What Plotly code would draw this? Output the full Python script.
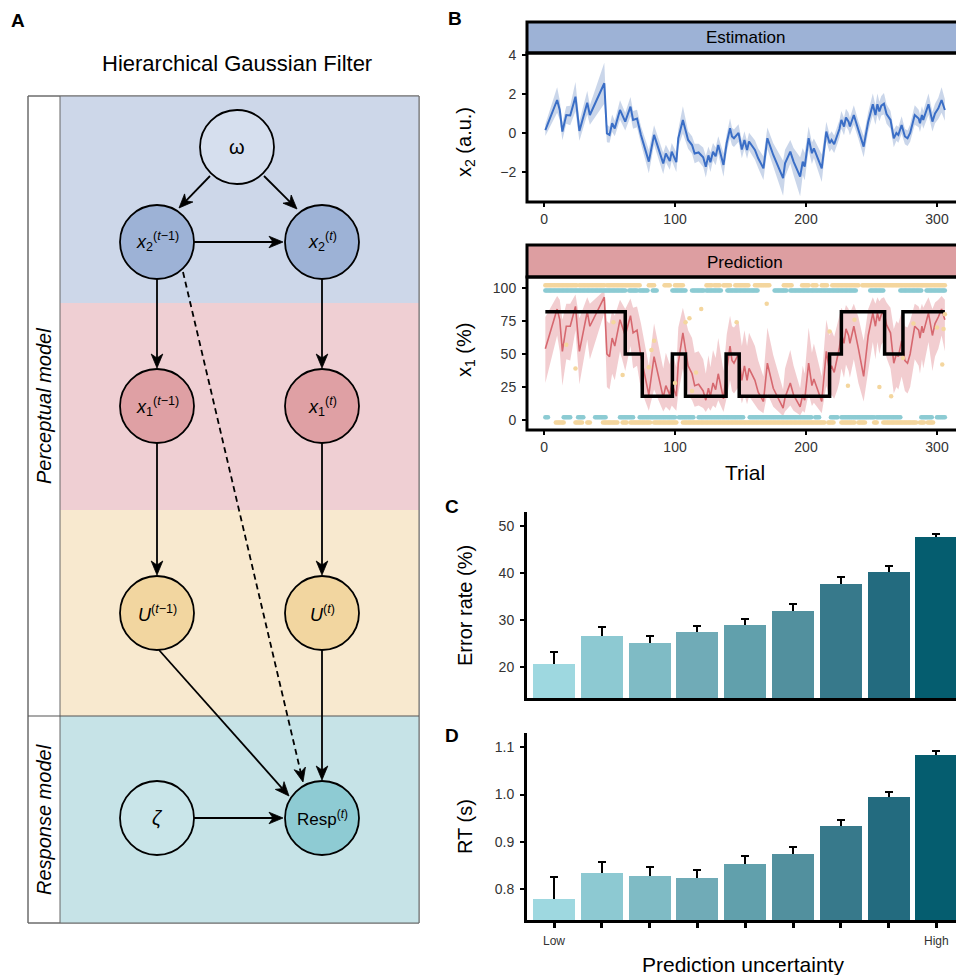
import math
import plotly.graph_objects as go

W, H = 956, 975
def X(px): return px / W
def Y(py): return 1 - py / H

FONT = "Liberation Sans, Arial, sans-serif"

# ---------------- Panel B data ----------------
trial = [1, 10, 12, 14, 17, 20, 24, 27, 33, 35, 46, 48,
         50, 52, 54, 58, 62, 66, 68, 71, 74, 80, 84, 91,
         93, 96, 97.5, 101, 102.5, 106, 110, 113, 115, 118, 121.5, 123.5,
         125.5, 127, 129, 131, 133, 137, 139.5, 142, 143.5, 145, 148.5, 151,
         153, 155, 156.5, 161, 163.5, 167.5, 170.5, 175, 182.5, 184, 188, 190.5,
         195.5, 197.5, 199, 202, 204.5, 206, 212, 215.5, 218, 219.5, 221.5, 224,
         225.5, 227, 229, 230.5, 232.5, 233.5, 236.5, 240, 244, 247.5, 251, 253,
         254.5, 256, 257.5, 259.5, 261.5, 264.5, 267, 269, 270.5, 273, 275.5, 277.5,
         279.5, 283, 286, 287, 288.5, 289.5, 293.5, 296.5, 298.5, 301, 303.5, 306]

x2_mean = [0.15, 1.69, 1.18, 0.07, 0.92, 0.90, 1.86, 0.10, 1.55, 0.92, 2.55, -0.02,
           -0.10, 0.50, 0.23, 1.18, 0.58, 1.35, 0.67, 0.74, -0.10, -1.47, -0.10, -1.56,
           -1.05, -1.44, -0.96, -1.50, -0.27, 0.67, -0.36, -0.62, -1.05, -1.00, -1.25, -1.73,
           -1.15, -1.50, -0.96, -1.20, -0.62, -1.64, -0.50, 0.24, -0.18, -0.27, 0.00, -0.85,
           -0.36, -0.87, -0.44, -0.87, -1.30, -1.81, -0.27, -1.13, -2.32, -1.56, -0.96, -1.47,
           -2.24, -1.47, -1.73, -0.27, -1.04, -0.79, -1.81, 0.07, -0.53, -0.36, -0.58, -0.10,
           0.20, 0.67, 0.33, 0.79, 0.58, 0.33, 0.92, 0.15, -0.70, 0.58, 1.47, 0.92,
           1.47, 1.10, 1.40, 1.50, 0.97, 0.67, -0.28, 0.00, -0.10, 0.41, -0.18, -0.27,
           0.00, 0.92, 0.74, 0.50, 0.92, 0.67, 1.47, 0.58, 1.00, 1.26, 1.69, 1.18]

x2_sd = [0.30, 0.65, 0.50, 0.45, 0.45, 0.50, 0.75, 0.50, 0.60, 0.50, 1.05, 0.45,
         0.40, 0.45, 0.40, 0.50, 0.45, 0.50, 0.45, 0.45, 0.45, 0.60, 0.50, 0.55,
         0.45, 0.45, 0.45, 0.50, 0.45, 0.70, 0.45, 0.45, 0.50, 0.45, 0.50, 0.55,
         0.45, 0.50, 0.45, 0.45, 0.45, 0.60, 0.45, 0.50, 0.45, 0.45, 0.45, 0.45,
         0.45, 0.45, 0.45, 0.50, 0.50, 0.60, 0.55, 0.60, 0.90, 0.70, 0.60, 0.70,
         1.00, 0.70, 0.70, 0.60, 0.55, 0.50, 0.70, 0.50, 0.45, 0.45, 0.45, 0.45,
         0.45, 0.45, 0.45, 0.45, 0.45, 0.45, 0.50, 0.45, 0.55, 0.50, 0.55, 0.50,
         0.55, 0.50, 0.50, 0.55, 0.50, 0.45, 0.45, 0.40, 0.40, 0.45, 0.40, 0.40,
         0.45, 0.50, 0.45, 0.45, 0.45, 0.45, 0.55, 0.50, 0.50, 0.55, 0.65, 0.55]

x1_mean = [54, 84, 76, 52, 71, 71, 86, 52, 82, 71, 93, 50,
           48, 62, 56, 76, 64, 79, 66, 68, 48, 19, 48, 17,
           26, 19, 28, 18, 43, 66, 41, 35, 26, 27, 22, 15,
           24, 18, 28, 23, 35, 16, 38, 56, 45, 43, 50, 30,
           41, 30, 39, 30, 21, 14, 43, 24, 9, 17, 28, 19,
           10, 19, 15, 43, 26, 31, 14, 52, 37, 41, 36, 48,
           55, 66, 58, 69, 64, 58, 71, 54, 33, 64, 81, 71,
           81, 75, 80, 82, 72, 66, 43, 50, 48, 60, 45, 43,
           50, 71, 68, 62, 71, 66, 81, 64, 73, 78, 84, 76]

x1_lo = [28, 64, 52, 26, 46, 45, 68, 27, 61, 46, 81, 25,
         23, 35, 30, 52, 37, 56, 39, 41, 23, 7, 23, 6.5,
         10, 7, 11, 7, 20, 39, 19, 15, 10, 11, 9, 6,
         9.5, 7, 11, 9, 15, 6, 17, 30, 22, 20, 25, 12.5,
         19, 12, 18, 12, 8, 5, 20, 10, 3, 6.5, 11, 7,
         3.5, 7, 5.5, 20, 10.5, 13, 5, 26, 16, 19, 16, 23,
         29, 39, 32, 42, 37, 32, 46, 28, 14, 37, 59, 46,
         59, 50, 57, 60, 47, 39, 20, 25, 23, 33, 22, 20,
         25, 46, 41, 35, 46, 39, 59, 37, 48, 54, 64, 52]

x1_hi = [78, 94, 91, 76, 88, 88, 95, 77, 93, 88, 98, 75,
         73, 83, 79, 91, 84, 92, 85, 86, 73, 41, 73, 39,
         51, 42, 53, 40, 70, 85, 68, 62, 51, 52, 46, 35,
         49, 40, 53, 47, 62, 37, 65, 79, 71, 70, 75, 56,
         68, 56, 66, 56, 45, 33, 70, 49, 23, 39, 53, 41,
         24, 41, 35, 70, 51, 58, 33, 76, 64, 68, 63, 73,
         79, 85, 81, 87, 84, 81, 88, 78, 60, 84, 93, 88,
         93, 90, 92, 93, 89, 85, 69, 75, 73, 82, 71, 70,
         75, 88, 86, 83, 88, 85, 93, 84, 89, 91, 94, 91]

# true outcome probability (step function)
step_trial = [1, 62, 75, 98, 108, 139, 149, 218, 227, 260, 274, 306]
step_prob = [82, 50, 18, 50, 18, 50, 18, 50, 82, 50, 82, 82]

# runs of trials carrying a dot in each row
yellow_top_runs = [(1, 25), (27, 46), (48, 73), (80, 84), (92, 96), (100, 106), (124, 128),
                   (130, 134), (137, 142), (146, 156), (161, 172), (183, 189), (197, 202),
                   (205, 208), (212, 216), (220, 240), (243, 306)]
teal_top_runs = [(1, 62), (65, 71), (73, 79), (83, 86), (98, 108), (113, 122), (124, 135),
                 (140, 163), (176, 185), (188, 238), (249, 259), (272, 288), (292, 306)]
teal_bottom_runs = [(1, 3), (15, 20), (26, 30), (39, 47), (58, 68), (73, 100), (103, 114),
                    (118, 152), (157, 204), (207, 210), (219, 224), (227, 252), (254, 272),
                    (288, 296), (300, 306)]
yellow_bottom_runs = [(9, 15), (24, 29), (33, 35), (45, 56), (60, 63), (66, 81), (84, 101),
                      (106, 214), (217, 221), (227, 237), (240, 245), (252, 254), (259, 284),
                      (287, 290), (293, 297)]
yellow_mid_trial = [17, 24, 53, 60, 80, 82, 84, 100, 108, 111, 113, 116, 120, 147, 170,
                    218, 232, 237, 256, 265, 274, 282, 300, 304, 305, 306]
yellow_mid_value = [57, 39, 74, 34, 40, 53, 60, 28, 74, 77, 22, 36, 84, 74, 88,
                    67, 26, 76, 25, 18, 47, 73, 70, 42, 69, 80]
ROW_YELLOW_TOP, ROW_TEAL_TOP, ROW_TEAL_BOTTOM, ROW_YELLOW_BOTTOM = 102, 98, 2, -2

# ---------------- Panels C / D data ----------------
bins = [1, 2, 3, 4, 5, 6, 7, 8, 9]
bin_end_labels = ["Low", "High"]
error_rate = [20.7, 26.7, 25.2, 27.4, 28.9, 32.0, 37.7, 40.3, 47.6]
error_rate_se = [2.6, 1.8, 1.5, 1.4, 1.4, 1.4, 1.4, 1.2, 0.8]
rt = [0.780, 0.834, 0.827, 0.823, 0.853, 0.874, 0.933, 0.994, 1.084]
rt_se = [0.045, 0.024, 0.021, 0.018, 0.017, 0.016, 0.014, 0.012, 0.009]
bar_colors = ['#9ed8e0', '#8dc9d2', '#7fbbc5', '#70abb7', '#61a0ac',
              '#52909e', '#37798b', '#236b7f', '#055d6f']

def expand(runs):
    out = []
    for a, b in runs:
        out.extend(range(a, b + 1))
    return out

fig = go.Figure()

# ---- Estimation ----
fig.add_trace(go.Scatter(x=trial, y=[m - s for m, s in zip(x2_mean, x2_sd)], mode='lines',
                         line=dict(width=0), hoverinfo='skip', showlegend=False,
                         xaxis='x', yaxis='y'))
fig.add_trace(go.Scatter(x=trial, y=[m + s for m, s in zip(x2_mean, x2_sd)], mode='lines',
                         line=dict(width=0), fill='tonexty', fillcolor='rgba(150,174,214,0.5)',
                         hoverinfo='skip', showlegend=False, xaxis='x', yaxis='y'))
fig.add_trace(go.Scatter(x=trial, y=x2_mean, mode='lines', line=dict(color='#3a6ec6', width=2),
                         showlegend=False, xaxis='x', yaxis='y'))

# ---- Prediction ----
fig.add_trace(go.Scatter(x=trial, y=x1_lo, mode='lines', line=dict(width=0), hoverinfo='skip',
                         showlegend=False, xaxis='x2', yaxis='y2'))
fig.add_trace(go.Scatter(x=trial, y=x1_hi, mode='lines', line=dict(width=0), fill='tonexty',
                         fillcolor='rgba(222,130,138,0.40)', hoverinfo='skip', showlegend=False,
                         xaxis='x2', yaxis='y2'))
fig.add_trace(go.Scatter(x=trial, y=x1_mean, mode='lines', line=dict(color='#d6686f', width=1.6),
                         showlegend=False, xaxis='x2', yaxis='y2'))
fig.add_trace(go.Scatter(x=step_trial, y=step_prob, mode='lines', line=dict(color='black', width=3.5, shape='hv'),
                         showlegend=False, xaxis='x2', yaxis='y2'))
for runs, row, col in [(yellow_top_runs, ROW_YELLOW_TOP, '#f4d69e'),
                       (teal_top_runs, ROW_TEAL_TOP, '#8ccbd3'),
                       (teal_bottom_runs, ROW_TEAL_BOTTOM, '#8ccbd3'),
                       (yellow_bottom_runs, ROW_YELLOW_BOTTOM, '#f4d69e')]:
    xs = expand(runs)
    fig.add_trace(go.Scatter(x=xs, y=[row] * len(xs), mode='markers',
                             marker=dict(color=col, size=4.5, line=dict(width=0)),
                             showlegend=False, xaxis='x2', yaxis='y2'))
fig.add_trace(go.Scatter(x=yellow_mid_trial, y=yellow_mid_value, mode='markers',
                         marker=dict(color='#f4d69e', size=4.5, line=dict(width=0)),
                         showlegend=False, xaxis='x2', yaxis='y2'))

# ---- C / D bars: error bars drawn first, bars on top hide the lower half ----
for vals, se, xa, ya in [(error_rate, error_rate_se, 'x3', 'y3'), (rt, rt_se, 'x4', 'y4')]:
    fig.add_trace(go.Bar(x=bins, y=vals, width=0.88, marker=dict(color='rgba(0,0,0,0)', line=dict(width=0)),
                         error_y=dict(type='data', array=se, color='black', thickness=2, width=4),
                         hoverinfo='skip', showlegend=False, xaxis=xa, yaxis=ya))
    fig.add_trace(go.Bar(x=bins, y=vals, width=0.88, marker=dict(color=bar_colors, line=dict(width=0)),
                         showlegend=False, xaxis=xa, yaxis=ya))

tickfont = dict(family=FONT, size=14, color='#333333')
common_y = dict(showgrid=False, zeroline=False, ticks='outside', ticklen=4, tickwidth=2,
                tickcolor='black', tickfont=tickfont, ticklabelstandoff=3)
common_x = dict(showgrid=False, zeroline=False, ticks='outside', ticklen=4, tickwidth=2,
                tickcolor='black', tickfont=tickfont)

layout = dict(
    width=W, height=H, margin=dict(l=0, r=0, t=0, b=0, autoexpand=False),
    paper_bgcolor='white', plot_bgcolor='white', barmode='overlay', bargap=0,
    font=dict(family=FONT, color='black'),
    xaxis=dict(domain=[X(527), 1], range=[-13, 314.5], tickvals=[0, 100, 200, 300], anchor='y', **common_x),
    yaxis=dict(domain=[Y(202), Y(53)], range=[-3.54, 4.1], tickvals=[-2, 0, 2, 4],
               ticktext=['\u22122', '0', '2', '4'], anchor='x', **common_y),
    xaxis2=dict(domain=[X(527), 1], range=[-13, 314.5], tickvals=[0, 100, 200, 300], anchor='y2', **common_x),
    yaxis2=dict(domain=[Y(430), Y(277)], range=[-7.6, 108.3], tickvals=[0, 25, 50, 75, 100], anchor='x2', **common_y),
    xaxis3=dict(domain=[X(527), 1], range=[0.435, 9.41], showgrid=False, zeroline=False,
                showticklabels=False, ticks='', showline=True, linewidth=3, linecolor='black', anchor='y3'),
    yaxis3=dict(domain=[Y(698), Y(512)], range=[13.4, 53], tickvals=[20, 30, 40, 50],
                showline=True, linewidth=3, linecolor='black', anchor='x3', **common_y),
    xaxis4=dict(domain=[X(527), 1], range=[0.435, 9.41], showgrid=False, zeroline=False,
                tickvals=bins, showticklabels=False, ticks='outside', ticklen=5, tickwidth=3,
                tickcolor='black', showline=True, linewidth=3, linecolor='black', anchor='y4'),
    yaxis4=dict(domain=[Y(920), Y(733)], range=[0.735, 1.13], tickvals=[0.8, 0.9, 1.0, 1.1],
                ticktext=['0.8', '0.9', '1.0', '1.1'], showline=True, linewidth=3, linecolor='black',
                anchor='x4', **common_y),
)
fig.update_layout(**layout)

shapes = []
annotations = []

def txt(x, y, text, size, angle=0, color='black', xanchor='center'):
    annotations.append(dict(x=X(x), y=Y(y), xref='paper', yref='paper', text=text, showarrow=False,
                            font=dict(family=FONT, size=size, color=color), textangle=angle,
                            xanchor=xanchor, yanchor='middle'))

def rect(x0, y0, x1, y1, fill=None, lc=None, lw=0, layer='below'):
    shapes.append(dict(type='rect', xref='paper', yref='paper', x0=X(x0), x1=X(x1), y0=Y(y1), y1=Y(y0),
                       fillcolor=fill if fill else 'rgba(0,0,0,0)',
                       line=dict(color=lc if lc else 'rgba(0,0,0,0)', width=lw), layer=layer))

def line(x0, y0, x1, y1, color='black', width=1.8, dash='solid', layer='above'):
    shapes.append(dict(type='line', xref='paper', yref='paper', x0=X(x0), x1=X(x1), y0=Y(y0), y1=Y(y1),
                       line=dict(color=color, width=width, dash=dash), layer=layer))

def arrow(x0, y0, x1, y1, dash='solid'):
    L, hw, notch = 14.0, 5.8, 4.0
    dx, dy = x1 - x0, y1 - y0
    n = math.hypot(dx, dy)
    ux, uy = dx / n, dy / n
    px_, py_ = -uy, ux
    bx, by = x1 - L * ux, y1 - L * uy
    nx_, ny_ = x1 - (L - notch) * ux, y1 - (L - notch) * uy
    line(x0, y0, nx_, ny_, width=1.8, dash=dash)
    pts = [(x1, y1), (bx + hw * px_, by + hw * py_), (nx_, ny_), (bx - hw * px_, by - hw * py_)]
    path = 'M ' + ' L '.join('%.5f,%.5f' % (X(a), Y(b)) for a, b in pts) + ' Z'
    shapes.append(dict(type='path', xref='paper', yref='paper', path=path, fillcolor='black',
                       line=dict(color='black', width=0.8), layer='above'))

# ---------------- Panel A ----------------
rect(28, 96, 419, 923, fill='white', lc='#777777', lw=1)
rect(60, 96, 419, 303, fill='#cdd7e9')
rect(60, 303, 419, 510, fill='#efcfd3')
rect(60, 510, 419, 716, fill='#f8e9cf')
rect(60, 716, 419, 923, fill='#c6e3e7')
shapes.append(dict(type='rect', xref='paper', yref='paper', x0=X(28), x1=X(419), y0=Y(923), y1=Y(96),
                   line=dict(color='#666666', width=1), fillcolor='rgba(0,0,0,0)', layer='above'))
line(60, 96, 60, 923, color='#666666', width=1)
line(28, 716, 419, 716, color='#555555', width=1.2)

arrow(210, 176, 179, 208)
arrow(264, 176, 297, 209)
arrow(194, 242, 283, 242)
arrow(157, 279, 157, 368)
arrow(322, 279, 322, 368)
arrow(157, 443, 157, 575)
arrow(322, 443, 322, 575)
arrow(322, 650, 322, 780)
arrow(159, 650, 289, 796)
arrow(194, 818, 283, 818)
arrow(183, 272, 303, 782, dash='6px,4px')

R = 37
nodes = [
    (237, 147, '#d6dfee', '\u03c9', 20),
    (157, 242, '#9db2d6', '<i>x</i><sub>2</sub><sup>(<i>t</i>\u22121)</sup>', 18),
    (322, 242, '#9db2d6', '<i>x</i><sub>2</sub><sup>(<i>t</i>)</sup>', 18),
    (157, 406, '#dfa0a4', '<i>x</i><sub>1</sub><sup>(<i>t</i>\u22121)</sup>', 18),
    (322, 406, '#dfa0a4', '<i>x</i><sub>1</sub><sup>(<i>t</i>)</sup>', 18),
    (157, 613, '#f2d6a0', '<i>U</i><sup>(<i>t</i>\u22121)</sup>', 18),
    (322, 613, '#f2d6a0', '<i>U</i><sup>(<i>t</i>)</sup>', 18),
    (157, 818, '#c9e5e9', '<i>\u03b6</i>', 20),
    (322, 818, '#8ecbd3', 'Resp<sup>(<i>t</i>)</sup>', 17),
]
for cx, cy, col, label, fs in nodes:
    shapes.append(dict(type='circle', xref='paper', yref='paper', x0=X(cx - R), x1=X(cx + R),
                       y0=Y(cy + R), y1=Y(cy - R), fillcolor=col, line=dict(color='black', width=1.8),
                       layer='above'))
    txt(cx, cy, label, fs)

txt(237, 63, 'Hierarchical Gaussian Filter', 22)
txt(44, 406, '<i>Perceptual model</i>', 20, angle=-90)
txt(44, 820, '<i>Response model</i>', 20, angle=-90)

# ---------------- Panel B frames ----------------
rect(527, 22, 962, 53, fill='#9db2d6', lc='black', lw=3, layer='above')
rect(527, 53, 962, 202, lc='black', lw=3, layer='above')
rect(527, 245, 962, 277, fill='#dd9ea1', lc='black', lw=3, layer='above')
rect(527, 277, 962, 430, lc='black', lw=3, layer='above')
txt(745, 38, 'Estimation', 17)
txt(745, 262, 'Prediction', 17)

# axis titles and end labels
txt(465, 142, 'x<sub>2</sub> (a.u.)', 20, angle=-90)
txt(465, 350, 'x<sub>1</sub> (%)', 20, angle=-90)
txt(745, 473, 'Trial', 21)
txt(465, 606, 'Error rate (%)', 20, angle=-90)
txt(465, 827, 'RT (s)', 20, angle=-90)
txt(743, 964, 'Prediction uncertainty', 21)
annotations.append(dict(x=bins[0], y=Y(941), xref='x4', yref='paper', text=bin_end_labels[0],
                        showarrow=False, font=dict(family=FONT, size=12, color='#333333'),
                        xanchor='center', yanchor='middle'))
annotations.append(dict(x=bins[-1], y=Y(941), xref='x4', yref='paper', text=bin_end_labels[1],
                        showarrow=False, font=dict(family=FONT, size=12, color='#333333'),
                        xanchor='center', yanchor='middle'))

# panel letters
for lx, ly, lt in [(18, 20, 'A'), (455, 19, 'B'), (452, 506, 'C'), (452, 735, 'D')]:
    txt(lx, ly, '<b>%s</b>' % lt, 19)

fig.update_layout(shapes=shapes, annotations=annotations)
fig.write_html("out.html", config={'displayModeBar': False},
               post_script="document.body.style.margin='0';document.body.style.overflow='hidden';")
